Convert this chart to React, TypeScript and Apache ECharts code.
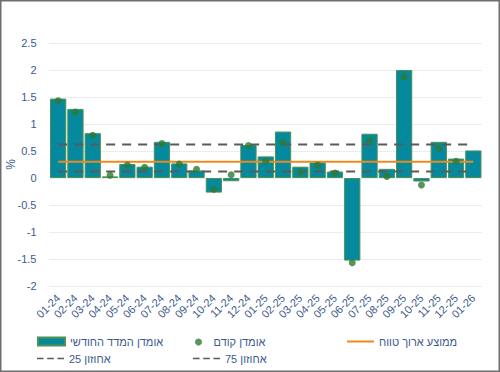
import React, { useEffect, useRef } from "react";
import * as echarts from "echarts";

const categories = [
  "01-24", "02-24", "03-24", "04-24", "05-24", "06-24", "07-24", "08-24", "09-24", "10-24", "11-24", "12-24",
  "01-25", "02-25", "03-25", "04-25", "05-25", "06-25", "07-25", "08-25", "09-25", "10-25", "11-25", "12-25",
  "01-26",
];

const monthlyEstimate = [
  1.47, 1.28, 0.83, 0.03, 0.26, 0.21, 0.67, 0.27, 0.14, -0.27, -0.06, 0.61,
  0.4, 0.86, 0.21, 0.29, 0.12, -1.53, 0.82, 0.17, 2.0, -0.065, 0.67, 0.36,
  0.51,
];

const previousEstimate = [
  1.43, 1.22, 0.79, 0.05, 0.24, 0.2, 0.64, 0.26, 0.16, -0.21, 0.06, 0.6,
  0.31, 0.66, 0.11, 0.24, 0.09, -1.57, 0.69, 0.03, 1.87, -0.13, 0.55, 0.31,
  null,
];

const longTermMean = 0.3;
const percentile25 = 0.12;
const percentile75 = 0.62;

const yTicks = { min: -2, max: 2.5, interval: 0.5 };

const NAME_BAR = "אומדן המדד החודשי";
const NAME_PREV = "אומדן קודם";
const NAME_MEAN = "ממוצע ארוך טווח";
const NAME_P25 = "אחוזון 25";
const NAME_P75 = "אחוזון 75";

const FONT = "'Liberation Sans', 'Open Sans', sans-serif";
const TEXT_COLOR = "#3d5a8c";

const DASH_ICON = "path://M0 0H9V2H0Z M14 0H23V2H14Z M28 0H37V2H28Z";
const LINE_ICON = "path://M0 0H27V2H0Z";

export default function App() {
  const ref = useRef<HTMLDivElement>(null);

  useEffect(() => {
    if (!ref.current) return;
    const chart = echarts.init(ref.current, undefined, { renderer: "svg" });
    const first = categories[0];
    const last = categories[categories.length - 1];
    const legendText = { color: TEXT_COLOR, fontSize: 11, fontFamily: FONT };
    const row1 = 331;
    const row2 = 348;

    chart.setOption({
      animation: false,
      backgroundColor: "#ffffff",
      grid: {
        left: 49.5,
        right: 18,
        top: 43,
        bottom: 86,
        containLabel: false,
        outerBoundsMode: "none",
      },
      xAxis: {
        type: "category",
        data: categories,
        axisLine: { show: false, onZero: false },
        axisTick: { show: false },
        axisLabel: {
          rotate: 45,
          interval: 0,
          margin: 10,
          color: TEXT_COLOR,
          fontSize: 11,
          fontFamily: FONT,
        },
      },
      yAxis: {
        type: "value",
        min: yTicks.min,
        max: yTicks.max,
        interval: yTicks.interval,
        name: "%",
        nameLocation: "middle",
        nameGap: 33,
        nameMoveOverlap: false,
        nameTextStyle: { color: TEXT_COLOR, fontSize: 12, fontFamily: FONT },
        axisLine: { show: false },
        axisTick: { show: false },
        axisLabel: { color: TEXT_COLOR, fontSize: 11, fontFamily: FONT, margin: 13 },
        splitLine: { lineStyle: { color: "#d9d9d9", type: "dotted", width: 1 } },
      },
      legend: [
        {
          data: [{ name: NAME_BAR, icon: "rect" }],
          left: 32,
          top: row1,
          itemWidth: 27,
          itemHeight: 8,
          textStyle: legendText,
        },
        {
          data: [{ name: NAME_PREV, icon: "circle" }],
          left: 190,
          top: row1 + 0.5,
          itemWidth: 20,
          itemHeight: 7,
          textStyle: legendText,
        },
        {
          data: [{ name: NAME_MEAN, icon: LINE_ICON }],
          left: 342,
          top: row1,
          itemWidth: 27,
          itemHeight: 8,
          textStyle: legendText,
        },
        {
          data: [{ name: NAME_P25, icon: DASH_ICON }],
          left: 32,
          top: row2,
          itemWidth: 27,
          itemHeight: 8,
          textStyle: legendText,
        },
        {
          data: [{ name: NAME_P75, icon: DASH_ICON }],
          left: 188,
          top: row2,
          itemWidth: 27,
          itemHeight: 8,
          textStyle: legendText,
        },
      ],
      graphic: [
        {
          type: "rect",
          shape: { x: 0, y: 0, width: 500, height: 372 },
          style: { fill: "none", stroke: "#6e6e6e", lineWidth: 3 },
          silent: true,
          z: 100,
        },
      ],
      series: [
        {
          name: NAME_BAR,
          type: "bar",
          data: monthlyEstimate,
          barCategoryGap: "6%",
          itemStyle: { color: "#05899f", borderColor: "#4f9150", borderWidth: 1 },
          z: 2,
        },
        {
          name: NAME_P75,
          type: "line",
          data: [[first, percentile75], [last, percentile75]],
          symbol: "none",
          lineStyle: { color: "#5a5a5a", width: 2, type: [9, 7] },
          itemStyle: { color: "#5a5a5a" },
          z: 3,
        },
        {
          name: NAME_P25,
          type: "line",
          data: [[first, percentile25], [last, percentile25]],
          symbol: "none",
          lineStyle: { color: "#5a5a5a", width: 2, type: [9, 7] },
          itemStyle: { color: "#5a5a5a" },
          z: 3,
        },
        {
          name: NAME_MEAN,
          type: "line",
          data: [[first, longTermMean], [last, longTermMean]],
          symbol: "none",
          lineStyle: { color: "#ee8a1c", width: 2 },
          itemStyle: { color: "#ee8a1c" },
          z: 4,
        },
        {
          name: NAME_PREV,
          type: "scatter",
          data: previousEstimate,
          symbol: "circle",
          symbolSize: 7,
          itemStyle: { color: "#2e7b32" },
          z: 5,
        },
      ],
    });

    return () => chart.dispose();
  }, []);

  return (
    <div
      ref={ref}
      style={{ position: "fixed", left: 0, top: 0, width: 500, height: 372 }}
    />
  );
}
